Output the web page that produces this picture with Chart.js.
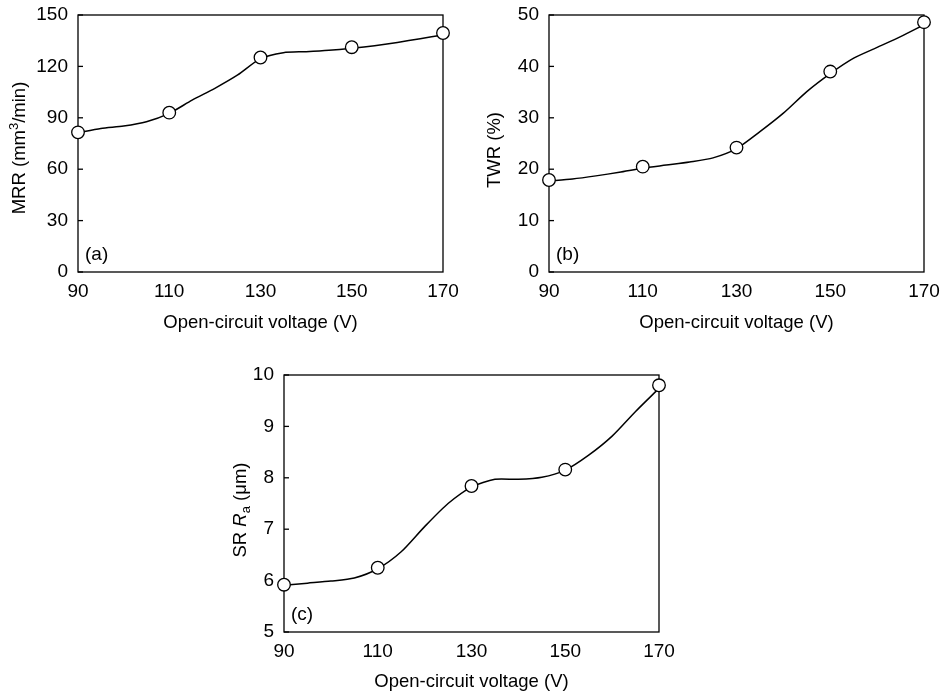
<!DOCTYPE html>
<html>
<head>
<meta charset="utf-8">
<script src="https://cdn.jsdelivr.net/npm/chart.js@4.4.1/dist/chart.umd.min.js"></script>
<style>
  body { margin: 0; background: #fff; width: 941px; height: 698px; position: relative; overflow: hidden; }
  canvas { position: absolute; }
</style>
</head>
<body>
<canvas id="chartA" width="470" height="340" style="left:0;top:0"></canvas>
<canvas id="chartB" width="471" height="340" style="left:470px;top:0"></canvas>
<canvas id="chartC" width="480" height="338" style="left:200px;top:360px"></canvas>
<script>
// measured points
var voltage = [90, 110, 130, 150, 170];
var mrr = [81.5, 93, 125.2, 131.2, 139.5];
var twr = [17.9, 20.5, 24.2, 39, 48.6];
var sr = [5.92, 6.25, 7.84, 8.16, 9.8];

// fitted curves, every 5 V
var curveVoltage = [90, 95, 100, 105, 110, 115, 120, 125, 130, 135, 140, 145, 150, 155, 160, 165, 170];
var mrrCurve = [81.2, 83.8, 85.2, 87.7, 92.6, 100.3, 107.2, 115, 124.5, 128, 128.6, 129.4, 130.6, 132.1, 134, 136.2, 138.3];
var twrCurve = [17.7, 18.1, 18.7, 19.4, 20.2, 20.8, 21.4, 22.2, 24.0, 27.3, 30.9, 35.1, 38.6, 41.6, 43.7, 45.8, 48.1];
var srCurve = [5.91, 5.95, 5.99, 6.05, 6.23, 6.56, 7.05, 7.5, 7.82, 7.97, 7.97, 8.01, 8.15, 8.44, 8.81, 9.29, 9.74];

var FONT = '"Liberation Sans", Arial, Helvetica, sans-serif';
Chart.defaults.font.family = FONT;
Chart.defaults.color = '#000';

function toXY(xs, ys) {
  return xs.map(function (x, i) { return { x: x, y: ys[i] }; });
}

// box, inner ticks, panel letter and a y title with super/subscripts
var framePlugin = {
  id: 'frame',
  beforeDatasetsDraw: function (chart, args, opts) {
    var ctx = chart.ctx, a = chart.chartArea, y = chart.scales.y;
    ctx.save();
    ctx.strokeStyle = '#000';
    ctx.lineWidth = 1.3;
    ctx.strokeRect(a.left, a.top, a.right - a.left, a.bottom - a.top);
    y.ticks.forEach(function (t) {
      var py = y.getPixelForValue(t.value);
      ctx.beginPath();
      ctx.moveTo(a.left, py);
      ctx.lineTo(a.left + 5, py);
      ctx.stroke();
    });
    ctx.fillStyle = '#000';
    ctx.font = '19px ' + FONT;
    ctx.textBaseline = 'middle';
    ctx.textAlign = 'left';
    ctx.fillText(opts.panel, a.left + 7, a.bottom - 17);

    var t = opts.yTitle;
    ctx.translate(t.x, t.y);
    ctx.rotate(-Math.PI / 2);
    var total = 0;
    t.parts.forEach(function (p) {
      ctx.font = (p.italic ? 'italic ' : '') + (p.sup || p.sub ? 13 : 18.5) + 'px ' + FONT;
      p.w = ctx.measureText(p.t).width;
      total += p.w;
    });
    var cx = -total / 2;
    t.parts.forEach(function (p) {
      ctx.font = (p.italic ? 'italic ' : '') + (p.sup || p.sub ? 13 : 18.5) + 'px ' + FONT;
      var dy = p.sup ? -6 : (p.sub ? 5 : 0);
      ctx.fillText(p.t, cx, dy);
      cx += p.w;
    });
    ctx.restore();
  }
};

function makeChart(id, points, curve, yMin, yMax, yStep, yWidth, padRight, xHeight, titleBottom, panel, yTitle) {
  return new Chart(document.getElementById(id).getContext('2d'), {
    type: 'line',
    data: {
      datasets: [
        {
          data: points,
          showLine: false,
          pointRadius: 6.3,
          pointBackgroundColor: '#fff',
          pointBorderColor: '#000',
          pointBorderWidth: 1.3,
          clip: false,
          order: 0
        },
        {
          data: curve,
          borderColor: '#000',
          borderWidth: 1.5,
          pointRadius: 0,
          tension: 0.25,
          fill: false,
          clip: false,
          order: 1
        }
      ]
    },
    options: {
      responsive: false,
      animation: false,
      layout: { padding: { top: 15, right: padRight, left: 0, bottom: 0 } },
      plugins: {
        legend: { display: false },
        tooltip: { enabled: false },
        frame: { panel: panel, yTitle: yTitle }
      },
      scales: {
        x: {
          type: 'linear',
          min: 90,
          max: 170,
          ticks: { stepSize: 20, padding: 8, font: { size: 19 }, color: '#000' },
          grid: { display: false, drawTicks: false },
          border: { display: false },
          title: {
            display: true,
            text: 'Open-circuit voltage (V)',
            font: { size: 18.5 },
            color: '#000',
            padding: { top: 0, bottom: titleBottom }
          },
          afterFit: function (s) {
            s.height = xHeight;
            s.paddingLeft = 0;
            s.paddingRight = 0;
          }
        },
        y: {
          min: yMin,
          max: yMax,
          ticks: { stepSize: yStep, padding: 10, font: { size: 19 }, color: '#000' },
          grid: { display: false, drawTicks: false },
          border: { display: false },
          afterFit: function (s) {
            s.width = yWidth;
            s.paddingTop = 0;
            s.paddingBottom = 0;
          }
        }
      }
    },
    plugins: [framePlugin]
  });
}

makeChart('chartA', toXY(voltage, mrr), toXY(curveVoltage, mrrCurve), 0, 150, 30, 78, 27, 68, 6, '(a)',
  { x: 20, y: 148, parts: [{ t: 'MRR (mm' }, { t: '3', sup: true }, { t: '/min)' }] });

makeChart('chartB', toXY(voltage, twr), toXY(curveVoltage, twrCurve), 0, 50, 10, 79, 17, 68, 6, '(b)',
  { x: 25, y: 150, parts: [{ t: 'TWR (%)' }] });

makeChart('chartC', toXY(voltage, sr), toXY(curveVoltage, srCurve), 5, 10, 1, 84, 21, 66, 5, '(c)',
  { x: 41, y: 150, parts: [{ t: 'SR ' }, { t: 'R', italic: true }, { t: 'a', sub: true }, { t: ' (\u03bcm)' }] });
</script>
</body>
</html>
